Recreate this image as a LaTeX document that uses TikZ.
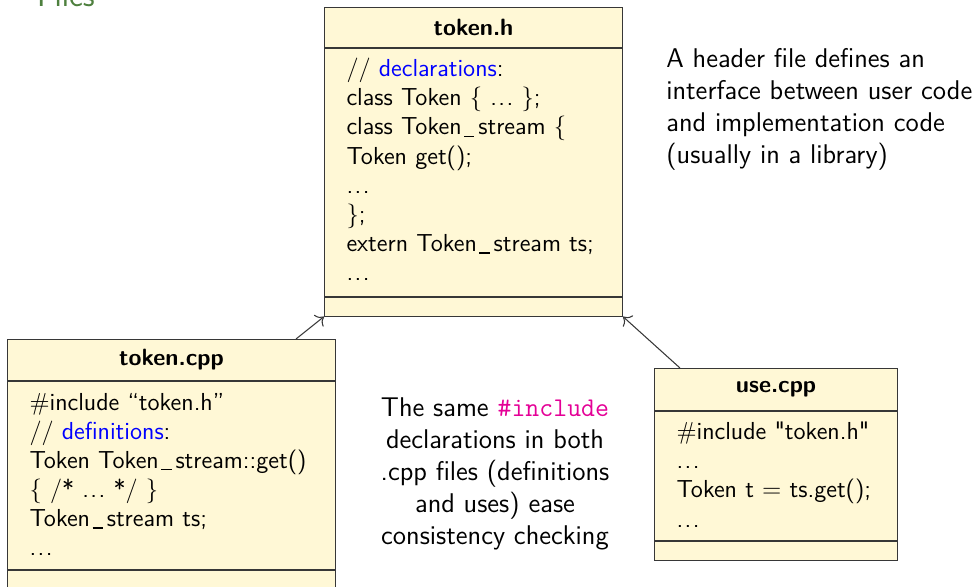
\documentclass[tikz,border=0pt]{standalone}
\usetikzlibrary{positioning, arrows.meta}
\renewcommand{\familydefault}{\sfdefault}

\definecolor{notefill}{RGB}{255,248,214}
\definecolor{framegray}{RGB}{55,55,55}
\definecolor{titlegreen}{RGB}{78,128,62}
\definecolor{keyword}{RGB}{228,0,150}

% spaced dots and a short spaced underscore for the code lines
\newcommand{\etc}{.\kern.06em.\kern.06em.}
\newcommand{\usc}{\kern.1em\rule[-.08em]{.42em}{.05em}\kern.16em}

\begin{document}
\begin{tikzpicture}[
    x=0.02cm, y=-0.02cm, >={To[scale=1.4]},
    every node/.style={font=\fontsize{14}{16.6}\selectfont},
    ctitle/.style={draw=framegray, line width=0.6pt, fill=notefill, text width=#1, inner xsep=0.44cm,
        align=center, minimum height=0.82cm, inner ysep=0pt, font=\fontsize{13.4}{16.4}\selectfont\bfseries},
    cbody/.style={draw=framegray, line width=0.6pt, fill=notefill, text width=#1, inner xsep=0.44cm,
        align=left, inner ysep=0pt},
    cfoot/.style={draw=framegray, line width=0.6pt, fill=notefill, minimum width=#1, minimum height=0.37cm, inner sep=0pt},
    note/.style={font=\fontsize{15.4}{18.2}\selectfont, inner sep=0pt},
  ]
  \useasboundingbox (0,0) rectangle (976,586);

  \node[anchor=base west, text=titlegreen, font=\fontsize{18.6}{22}\selectfont] (frametitle) at (31,6) {Files};

  % token.h
  \node[ctitle=5.08cm, anchor=north west, minimum height=0.8cm] (htitle) at (324,7) {token.h};
  \node[cbody=5.08cm, text height=0.56cm, text depth=4.40cm, below=0pt of htitle] (hbody)
    {// \textcolor{blue}{declarations}:\\
     class Token \{ \etc\ \};\\
     class Token\usc stream \{\\
     Token get();\\
     \etc\\
     \};\\
     extern Token\usc stream ts;\\
     \etc};
  \node[cfoot=5.96cm, below=0pt of hbody] (hfoot) {};

  % token.cpp
  \node[ctitle=5.68cm, anchor=north west] (ctitle) at (7,339) {token.cpp};
  \node[cbody=5.68cm, text height=0.57cm, text depth=3.19cm, below=0pt of ctitle] (cbody)
    {\#include ``token.h''\\
     // \textcolor{blue}{definitions}:\\
     Token Token\usc stream::get()\\
     \{ /* \etc\ */ \}\\
     Token\usc stream ts;\\
     \etc};
  \node[cfoot=6.56cm, below=0pt of cbody] (cfoot) {};

  % use.cpp
  \node[ctitle=3.98cm, anchor=north west, minimum height=0.84cm] (utitle) at (654,368) {use.cpp};
  \node[cbody=3.98cm, text height=0.56cm, text depth=2.02cm, below=0pt of utitle] (ubody)
    {\#include \textquotedbl token.h\textquotedbl\\
     \etc\\
     Token t $=$ ts.get();\\
     \etc};
  \node[cfoot=4.86cm, minimum height=0.38cm, below=0pt of ubody] (ufoot) {};

  \draw[->, framegray, line width=0.6pt] ([xshift=-0.8cm]ctitle.north east) -- (hfoot.south west);
  \draw[->, framegray, line width=0.6pt] ([xshift=0.52cm]utitle.north west) -- (hfoot.south east);

  \node[note, anchor=north west, align=left] (hnote) at (666,48)
    {A header file defines an\\
     interface between user code\\
     and implementation code\\
     (usually in a library)};
  \node[note, anchor=north, align=center] (inote) at (495,397)
    {The same \textcolor{keyword}{\texttt{\#include}}\\
     declarations in both\\
     .cpp files (definitions\\
     and uses) ease\\
     consistency checking};
\end{tikzpicture}
\end{document}
